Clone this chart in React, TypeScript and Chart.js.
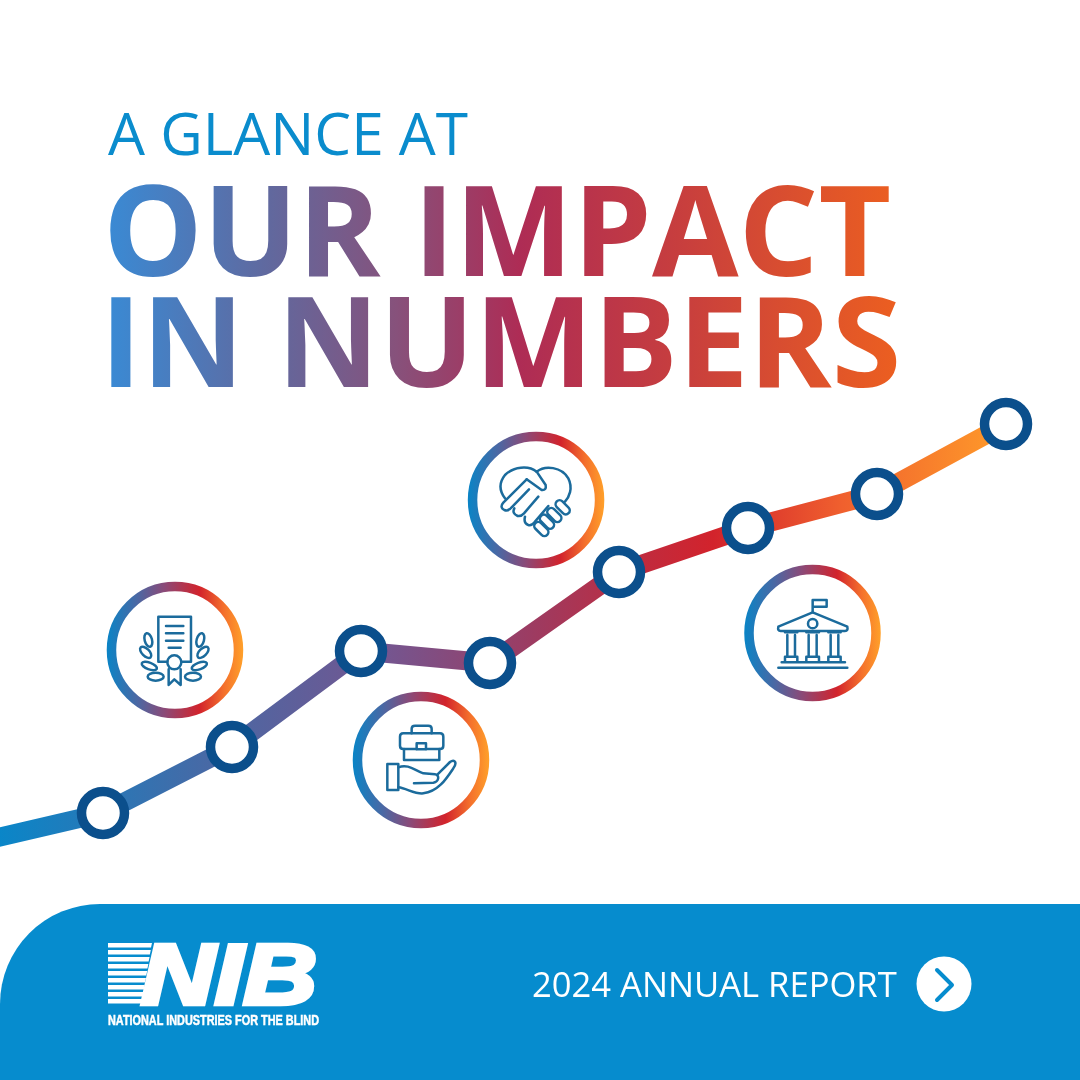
import React, { useEffect, useRef } from "react";
import { Chart, registerables } from "chart.js";

Chart.register(...registerables);

const steps = [-1, 0, 1, 2, 3, 4, 5, 6, 7];
const trendValues = [237, 267, 333, 429, 417, 508, 552, 586, 656];
const badgeSteps = [0.558, 2.465, 3.357, 5.5];
const badgeValues = [430, 320, 580, 447];
const titleLine = "A GLANCE AT";
const headlineLines = ["OUR IMPACT", "IN NUMBERS"];
const footerText = "2024 ANNUAL REPORT";
const logoName = "NIB";
const logoFull = "NATIONAL INDUSTRIES FOR THE BLIND";

const ICON = "#1b6b9c";

function lineGradient(chart: Chart) {
  const g = chart.ctx.createLinearGradient(0, 0, 1080, 0);
  g.addColorStop(0, "#0a86c8");
  g.addColorStop(0.2, "#4a68a4");
  g.addColorStop(0.36, "#75558f");
  g.addColorStop(0.5, "#9f3a5f");
  g.addColorStop(0.6, "#c22a3c");
  g.addColorStop(0.66, "#d2232c");
  g.addColorStop(0.78, "#f0602e");
  g.addColorStop(0.93, "#ff9b2a");
  g.addColorStop(1, "#ffa12a");
  return g;
}

function ringGradient(c: any) {
  const chart = c.chart as Chart;
  const scale = chart.scales.x;
  if (!scale || !c.raw) return "#75558f";
  const cx = scale.getPixelForValue(c.raw.x);
  if (!Number.isFinite(cx)) return "#75558f";
  const g = chart.ctx.createLinearGradient(cx - 68, 0, cx + 68, 0);
  g.addColorStop(0, "#0a84c6");
  g.addColorStop(0.22, "#4a68a4");
  g.addColorStop(0.42, "#8a4a78");
  g.addColorStop(0.68, "#d2232c");
  g.addColorStop(0.86, "#f4702c");
  g.addColorStop(1, "#ffa02a");
  return g;
}

function Icons() {
  const st = { fill: "none", stroke: ICON, strokeWidth: 7.5, strokeLinecap: "round", strokeLinejoin: "round" } as any;
  const leaves = (
    <g>
      <ellipse cx="175" cy="210" rx="11" ry="21" transform="rotate(-15 175 210)" />
      <ellipse cx="167" cy="247" rx="11" ry="21" transform="rotate(-45 167 247)" />
      <ellipse cx="178" cy="288" rx="24" ry="10" transform="rotate(20 178 288)" />
      <ellipse cx="197" cy="320" rx="24" ry="12" />
    </g>
  );
  return (
    <g>
      <g transform="translate(90 570) scale(0.3333)" {...st}>
        <path d="M232 275 H205 V140 H303 V275 H275" />
        <path d="M228 168 H280 M228 190 H280 M228 212 H280 M236 233 H272" />
        <circle cx="253" cy="277" r="21" />
        <path d="M236 298 V345 L253 328 L272 345 V298" />
        {leaves}
        <g transform="translate(506 0) scale(-1 1)">{leaves}</g>
      </g>
      <g transform="translate(340 680) scale(0.3333)" {...st}>
        <path d="M215 160 V146 Q215 137 225 137 H265 Q275 137 275 146 V160" />
        <path d="M230 207 H190 Q180 207 180 197 V170 Q180 160 190 160 H300 Q310 160 310 170 V197 Q310 207 300 207 H258" />
        <rect x="230" y="190" width="28" height="18" />
        <path d="M192 207 V240 H298 V207" />
        <rect x="142" y="252" width="33" height="78" />
        <path d="M175 262 C205 250 225 272 250 280 L285 283 C300 285 297 305 280 308 L222 310" />
        <path d="M292 284 L330 246 C345 235 352 250 340 265 C320 295 295 335 250 340 C225 343 200 325 175 322" />
      </g>
      <g transform="translate(455 420) scale(0.3333)" {...st}>
        <path d="M245 155 C220 135 175 140 150 165 C130 190 135 215 150 235" />
        <path d="M245 155 C270 135 320 140 340 175 C355 205 342 232 330 245" />
        <path d="M215 178 L145 248 Q133 262 148 270 Q160 275 170 262 L222 208" />
        <path d="M178 265 Q170 280 188 288 Q198 290 207 280 L250 230" />
        <path d="M210 290 Q205 310 220 315 Q230 318 240 305 L280 258" />
        <path d="M215 178 L260 210 Q275 212 272 195 L245 155" />
        <rect x="298" y="250" width="50" height="24" rx="12" transform="rotate(45 323 262)" />
        <rect x="273" y="273" width="50" height="24" rx="12" transform="rotate(45 298 285)" />
        <rect x="251" y="293" width="50" height="24" rx="12" transform="rotate(45 276 305)" />
        <rect x="234" y="315" width="50" height="24" rx="12" transform="rotate(45 259 327)" />
      </g>
      <g transform="translate(730 555) scale(0.3333)" {...st}>
        <path d="M248 172 V135 H290 V155 H248" />
        <path d="M145 215 L248 172 L352 215 Q355 228 345 228 H152 Q142 228 145 215 Z" />
        <circle cx="248" cy="206" r="14" />
        <path d="M165 232 H202 M172 240 V305 M195 240 V305 M165 318 V305 H202 V318" />
        <path d="M229 232 H267 M236 240 V305 M260 240 V305 M229 318 V305 H267 V318" />
        <path d="M295 232 H332 M302 240 V305 M325 240 V305 M295 318 V305 H332 V318" />
        <path d="M155 322 H345 M145 338 H352" />
      </g>
    </g>
  );
}

function Logo() {
  const rows = [0, 1, 2, 3, 4, 5, 6, 7, 8];
  return (
    <g fill="#ffffff">
      {rows.map((i) => (
        <polygon
          key={i}
          points={`108,${943 + i * 7} ${152 - i * 1.2},${943 + i * 7} ${151 - i * 1.2},${947.5 + i * 7} 108,${947.5 + i * 7}`}
        />
      ))}
      <text
        x="141"
        y="1004"
        fontFamily="Liberation Sans"
        fontWeight="700"
        fontStyle="italic"
        fontSize="86"
        stroke="#ffffff"
        strokeWidth="4.5"
        textLength="176"
        lengthAdjust="spacingAndGlyphs"
      >
        {logoName}
      </text>
      <text
        x="108"
        y="1025"
        fontFamily="Liberation Sans"
        fontWeight="700"
        fontSize="14"
        stroke="#ffffff"
        strokeWidth="0.5"
        textLength="211"
        lengthAdjust="spacingAndGlyphs"
      >
        {logoFull}
      </text>
    </g>
  );
}

export default function App() {
  const ref = useRef<HTMLCanvasElement>(null);

  useEffect(() => {
    document.body.style.margin = "0";
    document.body.style.background = "#ffffff";
    const chart = new Chart(ref.current as HTMLCanvasElement, {
      type: "line",
      data: {
        datasets: [
          {
            label: "Trend",
            data: steps.map((x, i) => ({ x, y: trendValues[i] })),
            borderColor: (c: any) => lineGradient(c.chart),
            borderWidth: 19,
            tension: 0,
            fill: false,
            pointRadius: (c: any) => (c.dataIndex === 0 ? 0 : 21.5),
            pointBorderWidth: 9.5,
            pointBorderColor: "#0b4f8c",
            pointBackgroundColor: "#ffffff",
            borderCapStyle: "butt",
            borderJoinStyle: "round",
          },
          {
            label: "Badges",
            data: badgeSteps.map((x, i) => ({ x, y: badgeValues[i] })),
            showLine: false,
            pointRadius: 63.5,
            pointBorderWidth: 9.5,
            pointBackgroundColor: "#ffffff",
            pointBorderColor: ringGradient,
          },
        ],
      } as any,
      options: {
        responsive: false,
        animation: false,
        devicePixelRatio: 1,
        layout: { padding: 0, autoPadding: false },
        plugins: { legend: { display: false }, tooltip: { enabled: false }, title: { display: false } },
        scales: {
          x: { type: "linear", display: false, min: -0.7984, max: 7.5736 },
          y: { type: "linear", display: false, min: 0, max: 1080 },
        },
      } as any,
    });
    return () => chart.destroy();
  }, []);

  return (
    <div style={{ position: "relative", width: 1080, height: 1080, overflow: "hidden", background: "#fff" }}>
      <canvas ref={ref} width={1080} height={1080} style={{ position: "absolute", left: 0, top: 0, width: 1080, height: 1080 }} />
      <svg width="1080" height="1080" viewBox="0 0 1080 1080" style={{ position: "absolute", left: 0, top: 0, pointerEvents: "none" }}>
        <defs>
          <linearGradient id="head" gradientUnits="userSpaceOnUse" x1="108" y1="0" x2="900" y2="0">
            <stop offset="0" stopColor="#3a8ad4" />
            <stop offset="0.2" stopColor="#60699f" />
            <stop offset="0.36" stopColor="#86527c" />
            <stop offset="0.52" stopColor="#ae2c55" />
            <stop offset="0.72" stopColor="#c73e3e" />
            <stop offset="1" stopColor="#ec5f20" />
          </linearGradient>
        </defs>
        <text x="108" y="155" fontFamily="Open Sans" fontSize="58.5" fill="#0a8ccd">{titleLine}</text>
        <text x="103" y="276" fontFamily="Open Sans" fontWeight="700" fontSize="125.5" fill="url(#head)">{headlineLines[0]}</text>
        <text x="100" y="387" fontFamily="Open Sans" fontWeight="700" fontSize="126" fill="url(#head)">{headlineLines[1]}</text>
        <Icons />
        <path d="M0 1080 V1004 A100 100 0 0 1 100 904 H1080 V1080 Z" fill="#068cce" />
        <Logo />
        <text x="532" y="997" fontFamily="Open Sans" fontSize="34.6" fill="#ffffff">{footerText}</text>
        <circle cx="944" cy="984" r="27.5" fill="#ffffff" />
        <path d="M937 970 L952 985 L937 1000" fill="none" stroke="#068cce" strokeWidth="4" strokeLinecap="round" strokeLinejoin="round" />
      </svg>
    </div>
  );
}
